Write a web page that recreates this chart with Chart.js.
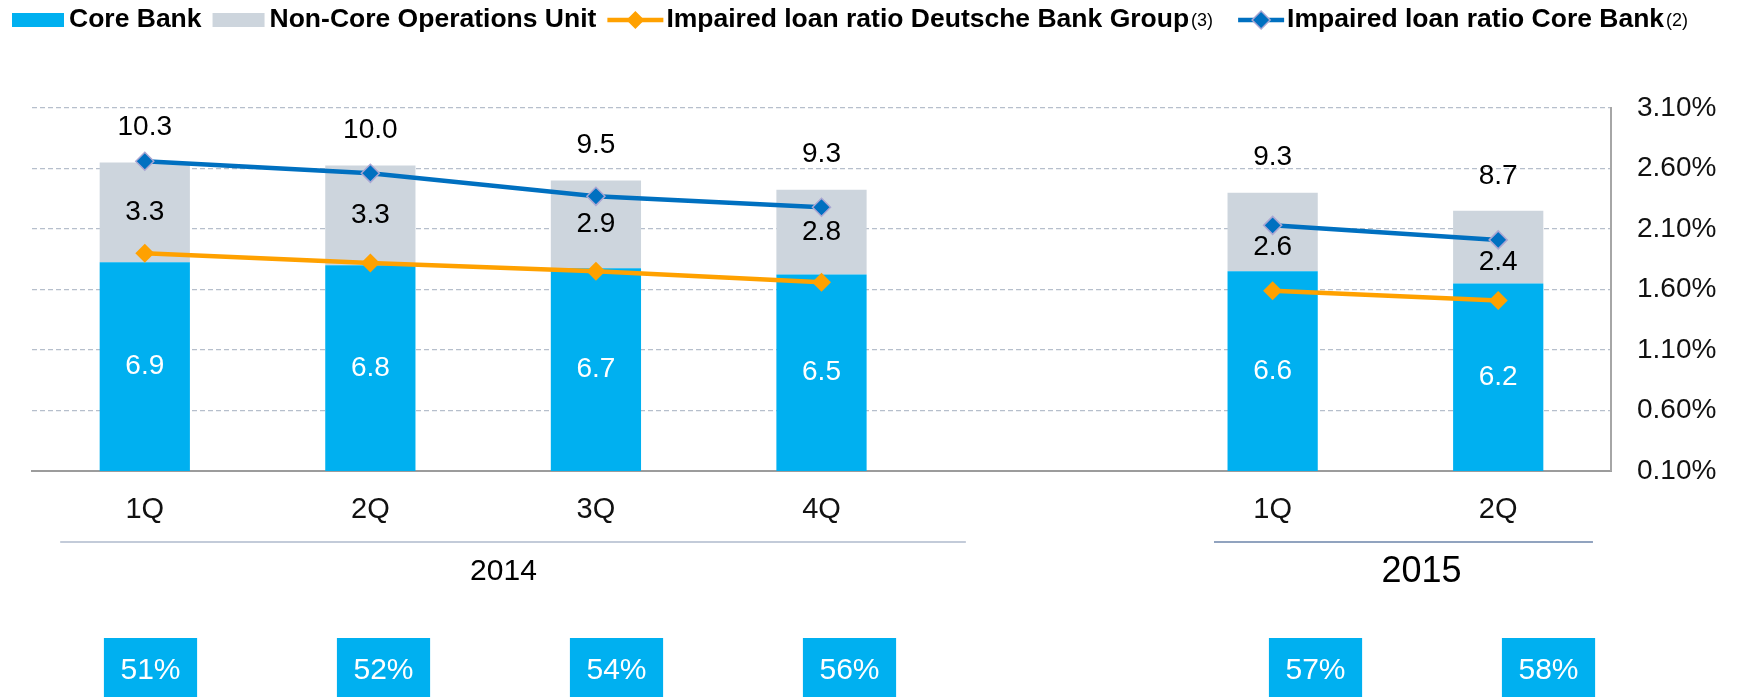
<!DOCTYPE html>
<html>
<head>
<meta charset="utf-8">
<title>Impaired loans</title>
<script src="https://cdn.jsdelivr.net/npm/chart.js@4/dist/chart.umd.min.js"></script>
<style>
  html, body { margin: 0; padding: 0; background: #fff; }
  #wrap { width: 1739px; height: 697px; }
</style>
</head>
<body>
<div id="wrap"><canvas id="chart" width="1739" height="697"></canvas></div>
<script>
'use strict';

// ── Data ─────────────────────────────────────────────────────────────────────
const quarters   = ['1Q', '2Q', '3Q', '4Q', '', '1Q', '2Q'];
const yearLabels = ['2014', '2015'];
const yearSpans  = [[0, 3], [5, 6]];          // first / last quarter index of each year

const coreBank   = [6.9, 6.8, 6.7, 6.5, null, 6.6, 6.2];
const nonCore    = [3.3, 3.3, 2.9, 2.8, null, 2.6, 2.4];
const totals     = [10.3, 10.0, 9.5, 9.3, null, 9.3, 8.7];
const ratioGroup = [1.90, 1.82, 1.75, 1.66, null, 1.59, 1.51];   // % (right axis)
const ratioCore  = [2.66, 2.56, 2.37, 2.28, null, 2.13, 2.01];   // % (right axis)
const boxRatios  = [51, 52, 54, 56, null, 57, 58];              // % shown in boxes below

const rightTicks  = [0.1, 0.6, 1.1, 1.6, 2.1, 2.6, 3.1];
const seriesNames = ['Core Bank', 'Non-Core Operations Unit',
                     'Impaired loan ratio Deutsche Bank Group', 'Impaired loan ratio Core Bank'];
const seriesNotes = ['', '', '(3)', '(2)'];

// ── Styles ───────────────────────────────────────────────────────────────────
const FONT     = '"Liberation Sans", Arial, sans-serif';
const C_CORE   = '#00b0f0';
const C_NCORE  = '#cdd5dd';
const C_ORANGE = '#ffa100';
const C_BLUE   = '#0070c0';
const C_EDGE   = '#aaa6d2';

Chart.defaults.font.family = FONT;
Chart.defaults.color = '#111';

function diamond(ctx, x, y, r) {
  ctx.beginPath();
  ctx.moveTo(x, y - r);
  ctx.lineTo(x + r, y);
  ctx.lineTo(x, y + r);
  ctx.lineTo(x - r, y);
  ctx.closePath();
}

// ── Legend across the top (with footnote marks) ──────────────────────────────
const topLegend = {
  id: 'topLegend',
  afterDraw(chart) {
    const ctx = chart.ctx;
    const cy = 20;
    const markW = [52, 52, 56, 46];
    let x = 12;
    ctx.save();
    chart.data.datasets.forEach((ds, i) => {
      const mw = markW[i];
      if (ds.type === 'line') {
        ctx.strokeStyle = ds.borderColor;
        ctx.lineWidth = 4.5;
        ctx.beginPath();
        ctx.moveTo(x, cy);
        ctx.lineTo(x + mw, cy);
        ctx.stroke();
        diamond(ctx, x + mw / 2, cy, 9);
        ctx.fillStyle = ds.pointBackgroundColor;
        ctx.fill();
        if (ds.pointBorderWidth) {
          ctx.lineWidth = 1.5;
          ctx.strokeStyle = ds.pointBorderColor;
          ctx.stroke();
        }
        x += mw + 3;
      } else {
        ctx.fillStyle = ds.backgroundColor;
        ctx.fillRect(x, 13, mw, 14);
        x += mw + 5;
      }
      ctx.fillStyle = '#000';
      ctx.font = 'bold 26.5px ' + FONT;
      ctx.textAlign = 'left';
      ctx.textBaseline = 'middle';
      ctx.fillText(seriesNames[i], x, cy);
      x += ctx.measureText(seriesNames[i]).width;
      if (seriesNotes[i]) {
        ctx.font = '18px ' + FONT;
        ctx.textBaseline = 'alphabetic';
        ctx.fillText(seriesNotes[i], x + 2, 26);
        x += ctx.measureText(seriesNotes[i]).width + 27;
      } else {
        x += 11;
      }
    });
    ctx.restore();
  }
};

// ── Value labels on the bars ─────────────────────────────────────────────────
const valueLabels = {
  id: 'valueLabels',
  afterDatasetsDraw(chart) {
    const ctx = chart.ctx;
    const core = chart.getDatasetMeta(0).data;
    const nonc = chart.getDatasetMeta(1).data;
    const pts  = chart.getDatasetMeta(3).data;
    ctx.save();
    ctx.font = '28px ' + FONT;
    ctx.textAlign = 'center';
    ctx.textBaseline = 'middle';
    core.forEach((el, i) => {
      if (coreBank[i] == null) return;
      const top = nonc[i];
      ctx.fillStyle = '#fff';
      ctx.fillText(coreBank[i].toFixed(1), el.x, (el.y + el.base) / 2);
      // non-core label, pushed below the Core Bank ratio line when they collide
      let ly = (top.y + top.base) / 2;
      const py = pts[i] ? pts[i].y : -999;
      if (ly - py < 20 && ly - py > -20) ly = py + 22;
      ctx.fillStyle = '#000';
      ctx.fillText(nonCore[i].toFixed(1), top.x, ly);
      ctx.fillText(totals[i].toFixed(1), top.x, top.y - 35);
    });
    ctx.restore();
  }
};

// ── Year rules + year labels under the quarter ticks ─────────────────────────
const yearAxis = {
  id: 'yearAxis',
  afterDraw(chart) {
    const ctx = chart.ctx;
    const xs = chart.scales.x;
    const slot = xs.getPixelForValue(1) - xs.getPixelForValue(0);
    // rule extents / label shift, in slots
    const look = [
      { l: 0.375, r: 0.64, shift: 0.09, size: 30, rule: '#c3cbd9' },
      { l: 0.26,  r: 0.42, shift: 0.16, size: 36, rule: '#91a3bf' },
    ];
    ctx.save();
    yearLabels.forEach((lab, k) => {
      const [a, b] = yearSpans[k];
      const pa = xs.getPixelForValue(a), pb = xs.getPixelForValue(b);
      const s = look[k];
      ctx.strokeStyle = s.rule;
      ctx.lineWidth = 2;
      ctx.beginPath();
      ctx.moveTo(pa - s.l * slot, 542);
      ctx.lineTo(pb + s.r * slot, 542);
      ctx.stroke();
      ctx.fillStyle = '#000';
      ctx.font = s.size + 'px ' + FONT;
      ctx.textAlign = 'center';
      ctx.textBaseline = 'middle';
      ctx.fillText(lab, (pa + pb) / 2 + s.shift * slot, 572);
    });
    ctx.restore();
  }
};

// ── Blue ratio boxes at the bottom ───────────────────────────────────────────
const ratioBoxes = {
  id: 'ratioBoxes',
  afterDraw(chart) {
    const ctx = chart.ctx;
    const xb = chart.scales.xb;
    const step = xb.getPixelForValue(1) - xb.getPixelForValue(0);
    const w = step * 0.4, top = 638, h = 66;
    ctx.save();
    ctx.font = '30px ' + FONT;
    ctx.textAlign = 'center';
    ctx.textBaseline = 'middle';
    boxRatios.forEach((v, i) => {
      if (v == null) return;
      const cx = xb.getPixelForValue(i);
      ctx.fillStyle = C_CORE;
      ctx.fillRect(cx - w / 2, top, w, h);
      ctx.fillStyle = '#fff';
      ctx.fillText(v + '%', cx, top + h / 2);
    });
    ctx.restore();
  }
};

// ── Chart ────────────────────────────────────────────────────────────────────
const ctx = document.getElementById('chart').getContext('2d');
new Chart(ctx, {
  data: {
    labels: quarters,
    datasets: [
      {
        type: 'bar', label: seriesNames[0], data: coreBank, yAxisID: 'y',
        backgroundColor: C_CORE, borderWidth: 0,
        categoryPercentage: 1, barPercentage: 0.4, order: 2,
      },
      {
        type: 'bar', label: seriesNames[1], data: nonCore, yAxisID: 'y',
        backgroundColor: C_NCORE, borderWidth: 0,
        categoryPercentage: 1, barPercentage: 0.4, order: 2,
      },
      {
        type: 'line', label: seriesNames[2], data: ratioGroup, yAxisID: 'y1',
        borderColor: C_ORANGE, borderWidth: 4.5, tension: 0, spanGaps: false,
        pointStyle: 'rectRot', pointRadius: 9.5,
        pointBackgroundColor: C_ORANGE, pointBorderColor: C_ORANGE, pointBorderWidth: 0,
        order: 1,
      },
      {
        type: 'line', label: seriesNames[3], data: ratioCore, yAxisID: 'y1',
        borderColor: C_BLUE, borderWidth: 4.5, tension: 0, spanGaps: false,
        pointStyle: 'rectRot', pointRadius: 9,
        pointBackgroundColor: C_BLUE, pointBorderColor: C_EDGE, pointBorderWidth: 1.5,
        order: 0,
      },
    ],
  },
  options: {
    responsive: false,
    devicePixelRatio: 1,
    animation: false,
    layout: { padding: { left: 32, top: 108, right: 0, bottom: 0 } },
    plugins: {
      legend: { display: false },
      tooltip: { enabled: false },
    },
    scales: {
      x: {
        stacked: true,
        offset: true,
        grid: { display: false, drawTicks: false },
        border: { display: true, color: '#9c9c9c', width: 2 },
        ticks: { padding: 22, font: { size: 29 }, color: '#111', maxRotation: 0, autoSkip: false },
        afterFit: s => { s.height = 226; },
      },
      xb: {
        type: 'linear', axis: 'x', position: 'bottom', display: false,
        min: -0.5086, max: 6.2682,
      },
      y: {
        stacked: true, display: false, min: 0, max: 12,
      },
      y1: {
        position: 'right', min: 0.1, max: 3.1,
        afterBuildTicks: s => { s.ticks = rightTicks.map(v => ({ value: v })); },
        afterFit: s => { s.width = 128; },
        grid: {
          color: c => (c.index === 0 ? 'rgba(0,0,0,0)' : '#b6bfcc'),
          lineWidth: 1.3, drawTicks: false,
        },
        border: { display: true, color: '#a6a6a6', width: 2, dash: [5, 3] },
        ticks: {
          padding: 26, font: { size: 28 }, color: '#111',
          callback: v => v.toFixed(2) + '%',
        },
      },
    },
  },
  plugins: [valueLabels, yearAxis, ratioBoxes, topLegend],
});
</script>
</body>
</html>
